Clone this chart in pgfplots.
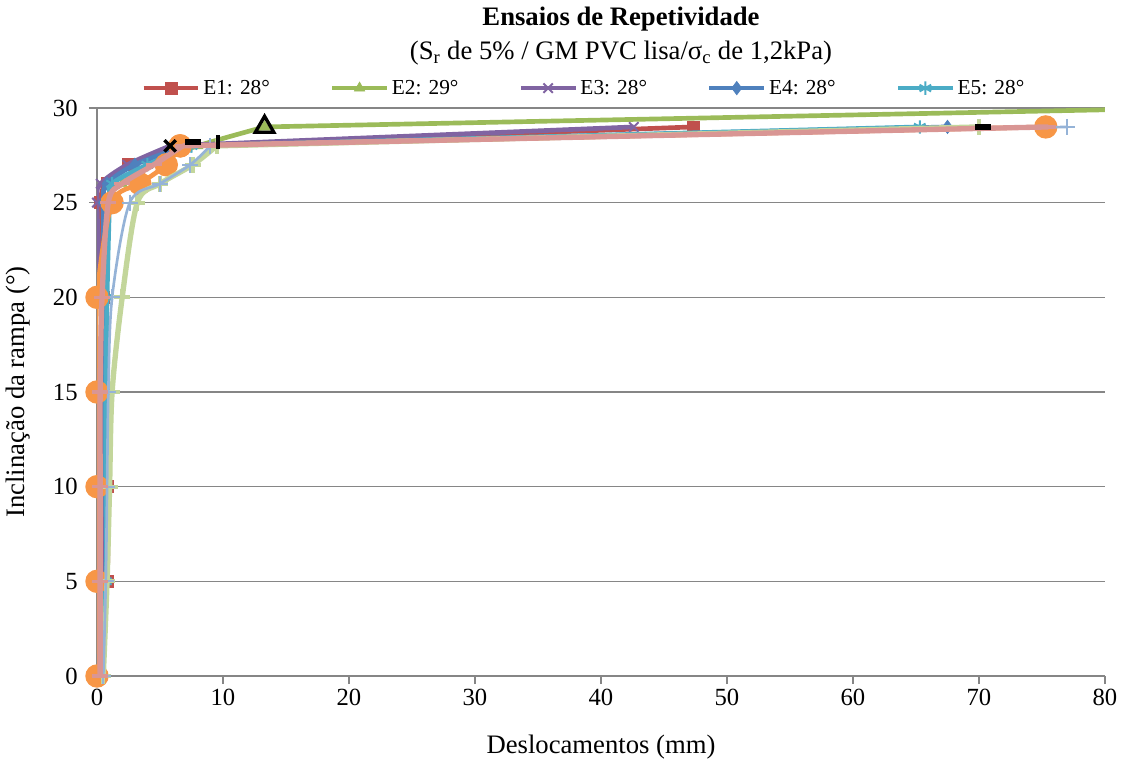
\documentclass[border=0pt]{standalone}
\usepackage{pgfplots}
\pgfplotsset{compat=1.18}
\usepackage{fontspec}
\setmainfont{Liberation Serif}
\usetikzlibrary{plotmarks}
\definecolor{cE1}{HTML}{C0504D}
\definecolor{cE2}{HTML}{9BBB59}
\definecolor{cE3}{HTML}{8064A2}
\definecolor{cE4}{HTML}{4F81BD}
\definecolor{cE5}{HTML}{4BACC6}
\definecolor{cOr}{HTML}{F79646}
\definecolor{cPk}{HTML}{D99694}
\definecolor{cLb}{HTML}{95B3D7}
\definecolor{cLg}{HTML}{C3D69B}
\definecolor{gridc}{HTML}{868686}
\begin{document}
\begin{tikzpicture}
\begin{axis}[
  at={(0,0)}, anchor=south west,
  scale only axis, width=756pt, height=426pt,
  xmin=0, xmax=80, ymin=0, ymax=30,
  xtick={0,10,...,80}, ytick={0,5,...,30},
  axis x line*=bottom, axis y line*=left,
  axis line style={gridc, line width=1.2pt, -},
  tick style={gridc, line width=1.2pt},
  tick align=outside, major tick length=6pt,
  ymajorgrids, grid style={gridc, line width=1.2pt},
  /pgf/number format/assume math mode=true,
  ticklabel style={font=\fontsize{18.5}{20}\selectfont},
  yticklabel style={xshift=-5pt},
  xlabel={Deslocamentos (mm)}, ylabel={Inclinação da rampa (°)},
  label style={font=\fontsize{20}{22}\selectfont},
  xlabel style={yshift=-15pt},
  ylabel style={yshift=10pt},
  clip mode=individual,
  every axis plot/.append style={line width=3.5pt},
  legend columns=5,
  legend style={draw=none, fill=none, at={(0.0397,1.035)}, anchor=west,
    font=\fontsize{16}{18}\selectfont,
    /tikz/every even column/.append style={column sep=43pt}},
  legend image code/.code={\draw[#1, mark repeat=2, mark phase=2] plot coordinates {(0pt,0pt)(20.5pt,0pt)(41pt,0pt)};},
]
% E1
\addplot[cE1, smooth, tension=0.5, mark=square*, mark size=4.5pt, mark options={solid, fill=cE1, line width=0.5pt}] coordinates {
(0,0) (0.8,5) (0.8,10) (0.6,15) (0.5,20) (0.3,25) (0.8,26) (2.5,27) (6.5,28)};
\addlegendentry{E1: 28°}
% E2
\addplot[cE2, smooth, tension=0.5, mark=triangle*, mark size=4.5pt, mark options={solid, fill=cE2, line width=0.5pt}] coordinates {
(0,0) (0.6,5) (0.6,10) (0.6,15) (0.6,20) (0.8,25) (2,26) (4,27) (8,28) (13.3,29)};
\addlegendentry{E2: 29°}
% E3
\addplot[cE3, smooth, tension=0.5, mark=x, mark size=5pt, mark options={solid, line width=1.5pt}] coordinates {
(0,0) (0.6,5) (0.6,10) (0.5,15) (0.3,20) (0,25) (0.3,26) (2.4,27) (5.8,28)};
\addlegendentry{E3: 28°}
% E4
\addplot[cE4, smooth, tension=0.5, mark=diamond*, mark size=5pt, mark options={solid, fill=cE4, line width=0.5pt}] coordinates {
(0,0) (0.7,5) (0.7,10) (0.6,15) (0.6,20) (0.5,25) (0.8,26) (3,27) (7,28)};
\addlegendentry{E4: 28°}
% E5
\addplot[cE5, smooth, tension=0.5, mark=asterisk, mark size=5pt, mark options={solid, line width=1.5pt}] coordinates {
(0,0) (0.7,5) (0.7,10) (0.7,15) (0.8,20) (1,25) (1.2,26) (4,27) (7.5,28)};
\addlegendentry{E5: 28°}
% long final segments of E1..E5
\addplot[cE1, forget plot, mark=square*, mark size=4.5pt, mark options={solid, fill=cE1, line width=0.5pt}] coordinates {(6.5,28) (47.3,29)};
\addplot[cE2, forget plot, mark=triangle*, mark size=4.5pt, mark options={solid, fill=cE2, line width=0.5pt}] coordinates {(13.3,29) (87,30)};
\addplot[cE3, forget plot, mark=x, mark size=5pt, mark options={solid, line width=1.5pt}] coordinates {(5.8,28) (42.6,29)};
\addplot[cE4, forget plot, mark=diamond*, mark size=5pt, mark options={solid, fill=cE4, line width=0.5pt}] coordinates {(7,28) (67.5,29)};
\addplot[cE5, forget plot, mark=asterisk, mark size=5pt, mark options={solid, line width=1.5pt}] coordinates {(7.5,28) (65.3,29)};
% orange circles
\addplot[cOr, forget plot, smooth, tension=0.5, mark=*, mark size=7pt, mark options={solid, fill=cOr, draw=cOr}] coordinates {
(0,0) (0,5) (0,10) (0,15) (0,20) (1.2,25) (3.4,26) (5.5,27) (6.6,28)};
\addplot[cOr, forget plot, mark=*, mark size=7pt, mark options={solid, fill=cOr, draw=cOr}] coordinates {(6.6,28) (75.3,29)};
% light green plus
\addplot[cLg, forget plot, smooth, tension=0.5, line width=4pt, mark=+, mark size=6pt, mark options={solid, line width=3pt}] coordinates {
(0.5,0) (0.8,5) (1,10) (1.2,15) (2,20) (3.2,25) (5,26) (7.6,27) (9.5,28)};
\addplot[cLg, forget plot, line width=4pt, mark=+, mark size=6pt, mark options={solid, line width=3pt}] coordinates {(9.5,28) (70,29)};
% light blue plus
\addplot[cLb, forget plot, smooth, tension=0.5, line width=2pt, mark=+, mark size=6pt, mark options={solid, line width=1.5pt}] coordinates {
(0.5,0) (0.7,5) (0.8,10) (0.9,15) (1.2,20) (2.6,25) (5,26) (7.4,27) (9,28)};
\addplot[cLb, forget plot, line width=2pt, mark=+, mark size=6pt, mark options={solid, line width=1.5pt}] coordinates {(9,28) (77,29)};
% pink
\addplot[cPk, forget plot, smooth, tension=0.5, line width=4pt, mark=-, mark size=6pt, mark options={solid, line width=2.5pt}] coordinates {
(0.25,0) (0.25,5) (0.25,10) (0.25,15) (0.4,20) (0.9,25) (2,26) (4.5,27) (6.8,28)};
\addplot[cPk, forget plot, line width=4pt, mark=-, mark size=6pt, mark options={solid, line width=2.5pt}] coordinates {(6.8,28) (75.5,29)};
% black highlight marks
\addplot[only marks, forget plot, black, mark=triangle, mark size=8pt, mark options={line width=2.5pt}] coordinates {(13.3,29)};
\addplot[only marks, forget plot, black, mark=x, mark size=6pt, mark options={line width=2.5pt}] coordinates {(5.8,28)};
\addplot[only marks, forget plot, black, mark=-, mark size=6pt, mark options={line width=4pt}] coordinates {(7.6,28.2) (70.3,29)};
\addplot[only marks, forget plot, black, mark=|, mark size=5pt, mark options={line width=2.5pt}] coordinates {(9.6,28.2)};
\end{axis}
\node[font=\bfseries\fontsize{20}{22}\selectfont] at (393pt,493pt) {Ensaios de Repetividade};
\node[font=\fontsize{20}{22}\selectfont] at (393pt,467pt) {(S\textsubscript{r} de 5\% / GM PVC lisa/σ\textsubscript{c} de 1,2kPa)};
\pgfresetboundingbox
\path[use as bounding box] (-72.75pt,-63pt) rectangle (768.75pt,507pt);
\end{tikzpicture}
\end{document}
